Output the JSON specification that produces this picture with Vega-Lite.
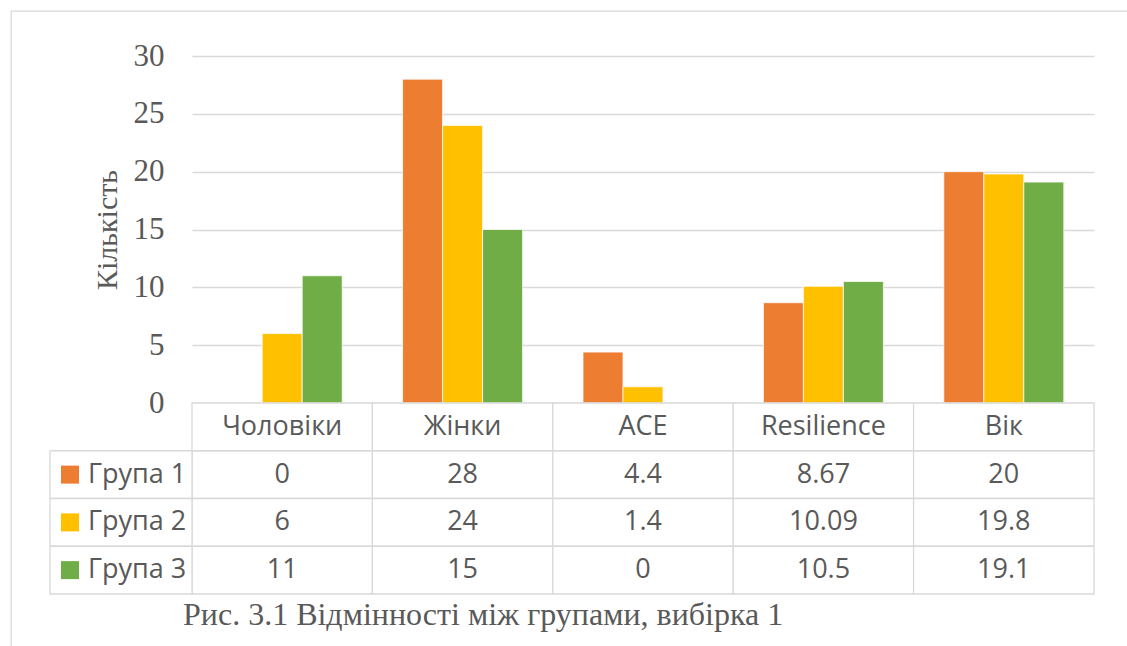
{
  "$schema": "https://vega.github.io/schema/vega-lite/v6.json",
  "background": "white",
  "width": 1116,
  "height": 635,
  "autosize": {"type": "none"},
  "padding": {"left": 11, "top": 11, "right": 0, "bottom": 0},
  "view": {"fill": "white", "stroke": "#d9d9d9", "strokeWidth": 1.3, "strokeDash": [1116, 1751, 635, 0]},
  "config": {"font": "Open Sans"},
  "datasets": {
    "scores": [
      {"category": "Чоловіки", "group": "Група 1", "value": 0},
      {"category": "Чоловіки", "group": "Група 2", "value": 6},
      {"category": "Чоловіки", "group": "Група 3", "value": 11},
      {"category": "Жінки", "group": "Група 1", "value": 28},
      {"category": "Жінки", "group": "Група 2", "value": 24},
      {"category": "Жінки", "group": "Група 3", "value": 15},
      {"category": "ACE", "group": "Група 1", "value": 4.4},
      {"category": "ACE", "group": "Група 2", "value": 1.4},
      {"category": "ACE", "group": "Група 3", "value": 0},
      {"category": "Resilience", "group": "Група 1", "value": 8.67},
      {"category": "Resilience", "group": "Група 2", "value": 10.09},
      {"category": "Resilience", "group": "Група 3", "value": 10.5},
      {"category": "Вік", "group": "Група 1", "value": 20},
      {"category": "Вік", "group": "Група 2", "value": 19.8},
      {"category": "Вік", "group": "Група 3", "value": 19.1}
    ]
  },
  "layer": [
    {
      "data": {"name": "scores"},
      "mark": {"type": "bar", "stroke": "white", "strokeWidth": 0.75},
      "encoding": {
        "x": {
          "field": "category",
          "type": "nominal",
          "sort": ["Чоловіки", "Жінки", "ACE", "Resilience", "Вік"],
          "scale": {"domain": ["Чоловіки", "Жінки", "ACE", "Resilience", "Вік"], "range": [181, 1083], "paddingInner": 0, "paddingOuter": 0},
          "axis": null
        },
        "xOffset": {
          "field": "group",
          "type": "nominal",
          "scale": {"paddingInner": 0, "paddingOuter": 0.755}
        },
        "y": {
          "field": "value",
          "type": "quantitative",
          "scale": {"domain": [0, 30], "range": [392, 45], "nice": false},
          "axis": {
            "offset": -181,
            "values": [0, 5, 10, 15, 20, 25, 30],
            "grid": true,
            "gridColor": "#d9d9d9",
            "gridWidth": 1.3,
            "domain": false,
            "ticks": false,
            "labelFont": "Liberation Serif",
            "labelFontSize": 31,
            "labelColor": "#595959",
            "labelPadding": 28,
            "title": "Кількість",
            "titleFont": "Liberation Serif",
            "titleFontSize": 30,
            "titleFontWeight": "normal",
            "titleColor": "#595959",
            "titlePadding": 11
          }
        },
        "color": {
          "field": "group",
          "type": "nominal",
          "scale": {"domain": ["Група 1", "Група 2", "Група 3"], "range": ["#ED7D31", "#FFC000", "#70AD47"]},
          "legend": null
        }
      }
    },
    {
      "data": {"name": "scores"},
      "encoding": {
        "x": {
          "field": "category",
          "type": "nominal",
          "sort": ["Чоловіки", "Жінки", "ACE", "Resilience", "Вік"],
          "scale": {"domain": ["Чоловіки", "Жінки", "ACE", "Resilience", "Вік"], "range": [181, 1083], "paddingInner": 0, "paddingOuter": 0},
          "axis": null
        }
      },
      "layer": [
        {
          "mark": {"type": "rect", "fill": "white", "stroke": "#d9d9d9", "strokeWidth": 1.3},
          "encoding": {
            "y": {
              "field": "group",
              "type": "nominal",
              "scale": {"domain": ["header", "Група 1", "Група 2", "Група 3", "caption"], "range": [392, 630.75], "paddingInner": 0, "paddingOuter": 0},
              "axis": null
            }
          }
        },
        {
          "transform": [{"filter": "datum.group === 'Група 1'"}],
          "mark": {"type": "rect", "fill": "white", "stroke": "#d9d9d9", "strokeWidth": 1.3},
          "encoding": {"y": {"datum": "header", "type": "nominal"}}
        },
        {
          "mark": {"type": "text", "align": "center", "baseline": "middle", "font": "Open Sans", "fontSize": 27, "color": "#595959"},
          "encoding": {
            "y": {"field": "group", "type": "nominal"},
            "text": {"field": "value", "type": "quantitative"}
          }
        },
        {
          "transform": [{"filter": "datum.group === 'Група 1'"}],
          "mark": {"type": "text", "align": "center", "baseline": "middle", "font": "Open Sans", "fontSize": 27, "color": "#595959"},
          "encoding": {
            "y": {"datum": "header", "type": "nominal"},
            "text": {"field": "category", "type": "nominal"}
          }
        },
        {
          "data": {"values": [{"caption": "Рис. 3.1 Відмінності між групами, вибірка 1"}]},
          "mark": {"type": "text", "align": "left", "baseline": "alphabetic", "dx": -9, "dy": 7, "font": "Liberation Serif", "fontSize": 32, "color": "#595959"},
          "encoding": {
            "x": {"datum": "Чоловіки", "type": "nominal", "bandPosition": 0},
            "y": {"datum": "caption", "type": "nominal"},
            "text": {"field": "caption", "type": "nominal"}
          }
        }
      ]
    },
    {
      "data": {"name": "scores"},
      "transform": [{"filter": "datum.category === 'Вік'"}],
      "encoding": {
        "y": {
          "field": "group",
          "type": "nominal",
          "scale": {"domain": ["header", "Група 1", "Група 2", "Група 3", "caption"], "range": [392, 630.75], "paddingInner": 0, "paddingOuter": 0},
          "axis": null
        }
      },
      "layer": [
        {
          "mark": {"type": "rect", "fill": "white", "stroke": "#d9d9d9", "strokeWidth": 1.3},
          "encoding": {
            "x": {
              "datum": "key",
              "type": "nominal",
              "scale": {"domain": ["key"], "range": [39, 181], "paddingInner": 0, "paddingOuter": 0},
              "axis": null
            }
          }
        },
        {
          "mark": {"type": "point", "shape": "square", "filled": true, "size": 324, "opacity": 1, "strokeWidth": 0, "xOffset": 20},
          "encoding": {
            "x": {"datum": "key", "type": "nominal", "bandPosition": 0},
            "color": {
              "field": "group",
              "type": "nominal",
              "scale": {"domain": ["Група 1", "Група 2", "Група 3"], "range": ["#ED7D31", "#FFC000", "#70AD47"]},
              "legend": null
            }
          }
        },
        {
          "mark": {"type": "text", "align": "left", "baseline": "middle", "dx": 38, "font": "Open Sans", "fontSize": 27, "color": "#595959"},
          "encoding": {
            "x": {"datum": "key", "type": "nominal", "bandPosition": 0},
            "text": {"field": "group", "type": "nominal"}
          }
        }
      ]
    }
  ],
  "resolve": {
    "scale": {"x": "independent", "y": "independent"},
    "axis": {"x": "independent", "y": "independent"}
  }
}
